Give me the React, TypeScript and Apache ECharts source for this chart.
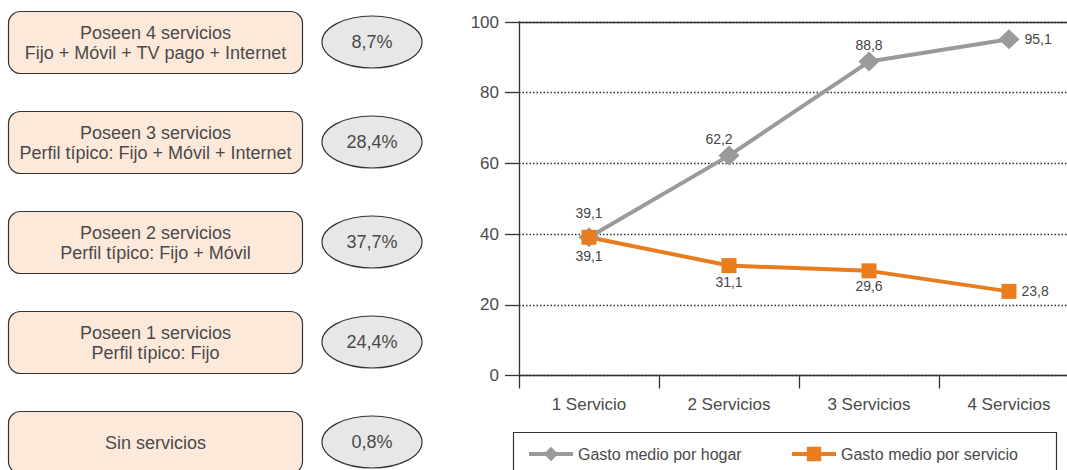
import React, { useEffect, useRef } from "react";
import * as echarts from "echarts";

const categories = ["1 Servicio", "2 Servicios", "3 Servicios", "4 Servicios"];
const gastoHogar = [39.1, 62.2, 88.8, 95.1];
const gastoServicio = [39.1, 31.1, 29.6, 23.8];
const seriesNames = ["Gasto medio por hogar", "Gasto medio por servicio"];
const boxTexts = [
  "Poseen 4 servicios\nFijo + Móvil + TV pago + Internet",
  "Poseen 3 servicios\nPerfil típico: Fijo + Móvil + Internet",
  "Poseen 2 servicios\nPerfil típico: Fijo + Móvil",
  "Poseen 1 servicios\nPerfil típico: Fijo",
  "Sin servicios",
];
const percentages = ["8,7%", "28,4%", "37,7%", "24,4%", "0,8%"];

const FONT = "'Liberation Sans', Arial, sans-serif";
const TEXT = "#4a4a4a";
const GREY = "#9a9a9a";
const ORANGE = "#e97c1f";

const fmt = (v: number) => v.toFixed(1).replace(".", ",");

const hogarLabels = [
  { position: "top", distance: 7, offset: [0, 0] },
  { position: "top", distance: 0, offset: [-10, 0] },
  { position: "top", distance: 0, offset: [0, 0] },
  { position: "right", distance: 5, offset: [0, 0] },
];
const servicioLabels = [
  { position: "bottom", distance: 4, offset: [0, 0] },
  { position: "bottom", distance: 2, offset: [0, 0] },
  { position: "bottom", distance: 1, offset: [0, 0] },
  { position: "right", distance: 5, offset: [0, 0] },
];

export default function App() {
  const ref = useRef<HTMLDivElement>(null);
  useEffect(() => {
    if (!ref.current) return;
    const chart = echarts.init(ref.current, undefined, { renderer: "svg" });

    const graphics: any[] = [];
    boxTexts.forEach((t, i) => {
      const top = 11 + i * 100;
      graphics.push({
        type: "rect",
        shape: { x: 8.5, y: top + 0.5, width: 294, height: 62, r: 12 },
        style: { fill: "#fde9da", stroke: "#333", lineWidth: 1.2 },
      });
      graphics.push({
        type: "text",
        x: 155.5,
        y: top + 31.5,
        style: {
          text: t,
          fill: TEXT,
          font: `18px ${FONT}`,
          lineHeight: 20,
          align: "center",
          verticalAlign: "middle",
        },
      });
      graphics.push({
        type: "ellipse",
        shape: { cx: 372, cy: top + 31, rx: 50, ry: 26 },
        style: { fill: "#e7e7e7", stroke: "#333", lineWidth: 1.2 },
      });
      graphics.push({
        type: "text",
        x: 372,
        y: top + 31,
        style: {
          text: percentages[i],
          fill: TEXT,
          font: `18px ${FONT}`,
          align: "center",
          verticalAlign: "middle",
        },
      });
    });
    graphics.push({
      type: "rect",
      shape: { x: 513.5, y: 432.5, width: 543, height: 60 },
      style: { fill: "none", stroke: "#333", lineWidth: 1.2 },
    });

    const legendBase = {
      top: 446,
      padding: 0,
      itemWidth: 44,
      itemHeight: 18,
      lineStyle: { width: 4 },
      textStyle: { fontSize: 16, color: TEXT, fontFamily: FONT },
    };

    chart.setOption({
      animation: false,
      textStyle: { fontFamily: FONT },
      grid: { left: 519, top: 22, width: 560, bottom: 94.5, outerBoundsMode: "none", containLabel: false },
      legend: [
        { ...legendBase, data: [seriesNames[0]], left: 527 },
        { ...legendBase, data: [seriesNames[1]], left: 790 },
      ],
      xAxis: [
        {
          type: "category",
          data: categories,
          boundaryGap: true,
          axisLine: { lineStyle: { color: "#333", width: 1.3 } },
          axisTick: { show: true, length: 13, lineStyle: { color: "#333", width: 1.3 } },
          axisLabel: { fontSize: 17, color: TEXT, margin: 20, fontFamily: FONT },
          splitLine: { show: false },
        },
        {
          type: "category",
          data: categories,
          position: "top",
          axisLine: { show: true, lineStyle: { color: "#333", width: 1.3 } },
          axisTick: { show: false },
          axisLabel: { show: false },
          splitLine: { show: false },
        },
      ],
      yAxis: {
        type: "value",
        min: 0,
        max: 100,
        interval: 20,
        axisLine: { show: true, lineStyle: { color: "#333", width: 1.3 } },
        axisTick: { show: true, length: 14, lineStyle: { color: "#333", width: 1.3 } },
        axisLabel: { fontSize: 17, color: TEXT, margin: 20, fontFamily: FONT },
        splitLine: { show: true, lineStyle: { color: "#333", width: 1.3, type: [1.5, 2] } },
      },
      graphic: graphics,
      series: [
        {
          name: seriesNames[0],
          type: "line",
          data: gastoHogar.map((v, i) => ({
            value: v,
            label: hogarLabels[i],
          })),
          symbol: "diamond",
          symbolSize: [21, 20],
          lineStyle: { color: GREY, width: 4 },
          itemStyle: { color: GREY },
          label: {
            show: true,
            fontSize: 14,
            color: "#444",
            fontFamily: FONT,
            formatter: (p: any) => fmt(p.value),
          },
        },
        {
          name: seriesNames[1],
          type: "line",
          data: gastoServicio.map((v, i) => ({
            value: v,
            label: servicioLabels[i],
          })),
          symbol: "rect",
          symbolSize: 15,
          lineStyle: { color: ORANGE, width: 4 },
          itemStyle: { color: ORANGE },
          label: {
            show: true,
            fontSize: 14,
            color: "#444",
            fontFamily: FONT,
            formatter: (p: any) => fmt(p.value),
          },
        },
      ],
    });
    return () => chart.dispose();
  }, []);
  return (
    <div
      ref={ref}
      style={{ position: "fixed", left: 0, top: 0, width: 1067, height: 470, background: "#fff" }}
    />
  );
}
